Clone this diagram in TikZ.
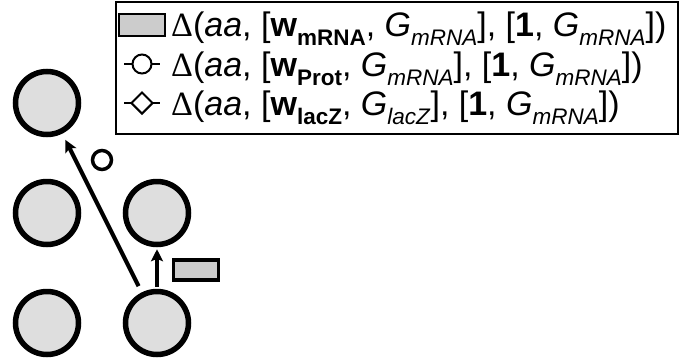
\documentclass[tikz,border=0pt]{standalone}
\usepackage{fontspec}
\setmainfont{Liberation Sans}
\newfontfamily\greekfont{Liberation Serif}
\usetikzlibrary{arrows.meta,shapes.geometric}

\newcommand{\lowsub}[1]{\raisebox{-0.28em}{\fontsize{22.5}{22.5}\selectfont #1}}
\newcommand{\dterm}[2]{{\greekfont\char"0394}(\textit{aa}, [\textbf{w}\lowsub{\textbf{#1}}, \textit{G}\lowsub{\textit{#2}}], [\textbf{1}, \textit{G}\lowsub{\textit{mRNA}}])}

\begin{document}
\begin{tikzpicture}
[x=1pt, y=-1pt,
> = {Stealth[length=12pt,width=12pt,inset=2.5pt]}, % arrow head style
cell/.style={circle,draw,line width=5.5pt,fill=black!13,minimum size=63pt,inner sep=0pt},
legtext/.style={anchor=base west,inner sep=0pt,font=\fontsize{34}{34}\selectfont}]
\useasboundingbox (0,0) rectangle (688,362);
% cells
\node[cell] (c1) at (47,103) {};
\node[cell] (c2) at (47,213) {};
\node[cell] (c3) at (157,213) {};
\node[cell] (c4) at (47,323) {};
\node[cell] (c5) at (157,323) {};
% moves
\draw[->,line width=4.2pt,shorten <=7pt,shorten >=7pt] (c5) -- (c1);
\draw[->,line width=4.2pt,shorten <=2pt,shorten >=2pt] (c5.north) -- (c3.south);
\node[circle,draw,line width=3.5pt,fill=white,minimum size=19pt,inner sep=0pt] (mprot) at (102,160) {};
\node[draw,line width=3.5pt,fill=black!20,minimum width=45pt,minimum height=20pt,inner sep=0pt] (mmrna) at (196,270) {};
% legend
\node[draw,line width=2pt,fill=white,minimum width=562pt,minimum height=132pt,anchor=north west] (legend) at (115,1) {};
\node[draw,line width=2pt,fill=black!20,minimum width=46pt,minimum height=22pt,inner sep=0pt] (k1) at (142,25) {};
\coordinate (k2a) at (124,64); \coordinate (k2b) at (160,64);
\draw[line width=1.5pt] (k2a) -- (k2b);
\node[circle,draw,line width=2pt,fill=white,minimum size=19pt,inner sep=0pt] (k2) at (142,64) {};
\coordinate (k3a) at (124,103); \coordinate (k3b) at (160,103);
\draw[line width=1.5pt] (k3a) -- (k3b);
\node[diamond,draw,line width=2pt,fill=white,minimum size=22pt,inner sep=0pt] (k3) at (142,103) {};
\node[legtext] (t1) at (171,36) {\dterm{mRNA}{mRNA}};
\node[legtext] (t2) at (171,76) {\dterm{Prot}{mRNA}};
\node[legtext] (t3) at (171,115) {\dterm{lacZ}{lacZ}};
\end{tikzpicture}
\end{document}
